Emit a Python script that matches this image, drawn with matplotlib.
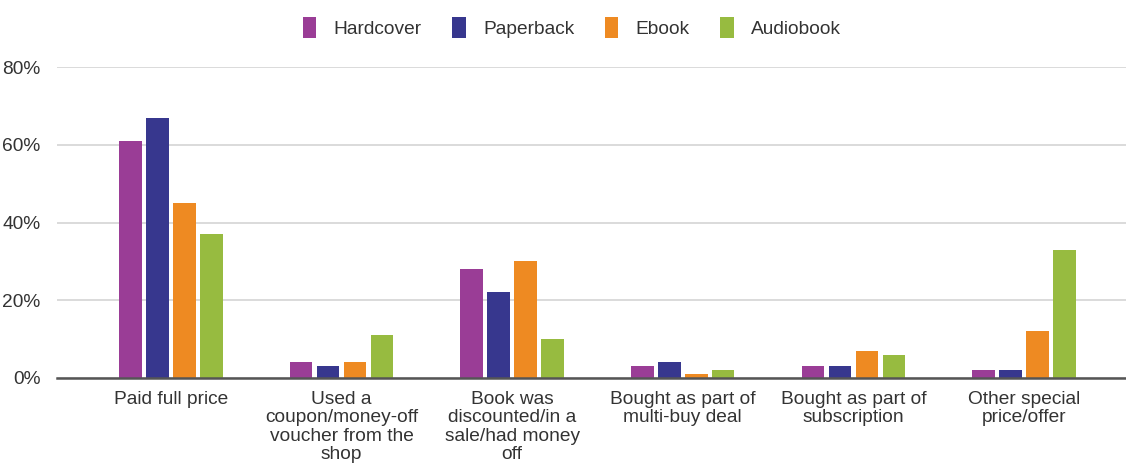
import matplotlib.pyplot as plt
import numpy as np

plt.rcParams['font.family'] = ['Liberation Sans', 'DejaVu Sans']

categories = [
    "Paid full price",
    "Used a\ncoupon/money-off\nvoucher from the\nshop",
    "Book was\ndiscounted/in a\nsale/had money\noff",
    "Bought as part of\nmulti-buy deal",
    "Bought as part of\nsubscription",
    "Other special\nprice/offer",
]
hardcover = [61, 4, 28, 3, 3, 2]
paperback = [67, 3, 22, 4, 3, 2]
ebook = [45, 4, 30, 1, 7, 12]
audiobook = [37, 11, 10, 2, 6, 33]

series = [
    ("Hardcover", hardcover, "#9a3d96"),
    ("Paperback", paperback, "#37378e"),
    ("Ebook", ebook, "#ee8a22"),
    ("Audiobook", audiobook, "#97bb40"),
]
yticks = [0, 20, 40, 60, 80]

fig = plt.figure(figsize=(11.26, 4.63), dpi=100)
ax = fig.add_axes([57 / 1126, 1 - 378 / 463, 1 - 57 / 1126, (378 - 67) / 463])

x = np.arange(len(categories))
slot = 0.158
width = 0.132
for i, (name, vals, color) in enumerate(series):
    offset = (i - 1.5) * slot
    ax.bar(x + offset, vals, width=width, color=color, label=name, zorder=3)

ax.set_xlim(-0.668, 5.598)
ax.set_ylim(0, 80)
ax.set_yticks(yticks)
ax.set_yticklabels([f"{t}%" for t in yticks])
ax.set_xticks(x)
ax.set_xticklabels(categories, linespacing=1.12)

ax.grid(axis='y', color='#d4d4d4', linewidth=1.2, zorder=0)
for side in ['top', 'right', 'left']:
    ax.spines[side].set_visible(False)
ax.spines['bottom'].set_color('#555555')
ax.spines['bottom'].set_linewidth(1.8)
ax.spines['bottom'].set_zorder(4)
ax.tick_params(axis='both', length=0, labelsize=13.8, colors='#333333')
ax.tick_params(axis='x', pad=9)
ax.tick_params(axis='y', pad=12)

fig.legend(loc='upper center', bbox_to_anchor=(0.508, 1.0), ncol=4,
           frameon=False, fontsize=13.8, handlelength=0.7, handleheight=1.3,
           handletextpad=0.9, columnspacing=1.6, labelcolor='#333333')

fig.savefig("out.png", dpi=100)
